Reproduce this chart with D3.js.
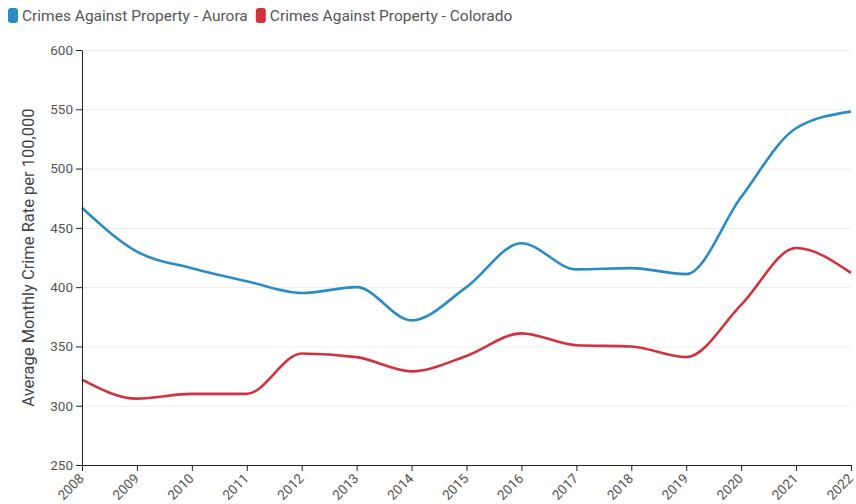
<!DOCTYPE html>
<html>
<head>
<meta charset="utf-8">
<script src="https://cdn.jsdelivr.net/npm/d3@7"></script>
<style>
  body { margin: 0; background: #fff; font-family: Roboto, sans-serif; }
  .tick text { fill: #555; font-size: 13.5px; font-family: Roboto, sans-serif; }
  .grid line { stroke: #ebebeb; }
  .grid .domain { display: none; }
</style>
</head>
<body>
<div id="chart"></div>
<script>
const years = [2008, 2009, 2010, 2011, 2012, 2013, 2014, 2015, 2016, 2017, 2018, 2019, 2020, 2021, 2022];
const aurora = [467, 430, 416, 405, 395, 400, 372, 400, 437, 415, 416, 411, 476, 534, 548];
const colorado = [322, 306, 310, 310, 344, 341, 329, 342, 361, 351, 350, 341, 385, 433, 412];
const yTicks = [250, 300, 350, 400, 450, 500, 550, 600];
const seriesNames = ["Crimes Against Property - Aurora", "Crimes Against Property - Colorado"];
const colors = ["#2a8cc4", "#d1323b"];

const w = 856;
const h = 504;
const margin = { top: 50, right: 5, bottom: 39, left: 82 };

const svg = d3.select("#chart")
    .append("svg")
    .attr("width", w)
    .attr("height", h);

const xScale = d3.scaleLinear()
    .domain([2008, 2022])
    .range([margin.left, w - margin.right]);

const yScale = d3.scaleLinear()
    .domain([250, 600])
    .range([h - margin.bottom, margin.top]);

// gridlines
svg.append("g")
    .attr("class", "grid")
    .attr("transform", "translate(" + margin.left + ",0)")
    .call(d3.axisLeft(yScale).tickValues(yTicks).tickSize(-(w - margin.right - margin.left)).tickFormat(""));

// lines
const line = d3.line()
    .x((d, i) => xScale(years[i]))
    .y(d => yScale(d))
    .curve(d3.curveMonotoneX);

[aurora, colorado].forEach((s, i) => {
    svg.append("path")
        .datum(s)
        .attr("fill", "none")
        .attr("stroke", colors[i])
        .attr("stroke-width", 2.6)
        .attr("d", line);
});

// axes
const xAxis = d3.axisBottom(xScale).tickValues(years).tickFormat(d3.format("d")).tickSizeOuter(0);
const yAxis = d3.axisLeft(yScale).tickValues(yTicks).tickSizeOuter(0);

svg.append("g")
    .attr("transform", "translate(0," + (h - margin.bottom) + ")")
    .call(xAxis)
    .call(g => g.selectAll("line, path").attr("stroke", "#222"))
    .selectAll("text")
    .attr("x", 0)
    .attr("y", 0)
    .attr("dy", "0.35em")
    .attr("text-anchor", "end")
    .attr("transform", "translate(-1,11) rotate(-45)");

svg.append("g")
    .attr("transform", "translate(" + margin.left + ",0)")
    .call(yAxis)
    .call(g => g.selectAll("line, path").attr("stroke", "#222"));

// y axis title
svg.append("text")
    .attr("transform", "translate(34," + ((margin.top + h - margin.bottom) / 2) + ") rotate(-90)")
    .attr("text-anchor", "middle")
    .attr("fill", "#444")
    .style("font-size", "16.5px")
    .text("Average Monthly Crime Rate per 100,000");

// legend
let lx = 8;
seriesNames.forEach((name, i) => {
    svg.append("rect")
        .attr("x", lx)
        .attr("y", 8)
        .attr("width", 10)
        .attr("height", 15)
        .attr("rx", 3)
        .attr("fill", colors[i]);
    const t = svg.append("text")
        .attr("x", lx + 14)
        .attr("y", 21)
        .attr("fill", "#555")
        .style("font-size", "15.5px")
        .text(name);
    lx += 14 + t.node().getComputedTextLength() + 8;
});
</script>
</body>
</html>
